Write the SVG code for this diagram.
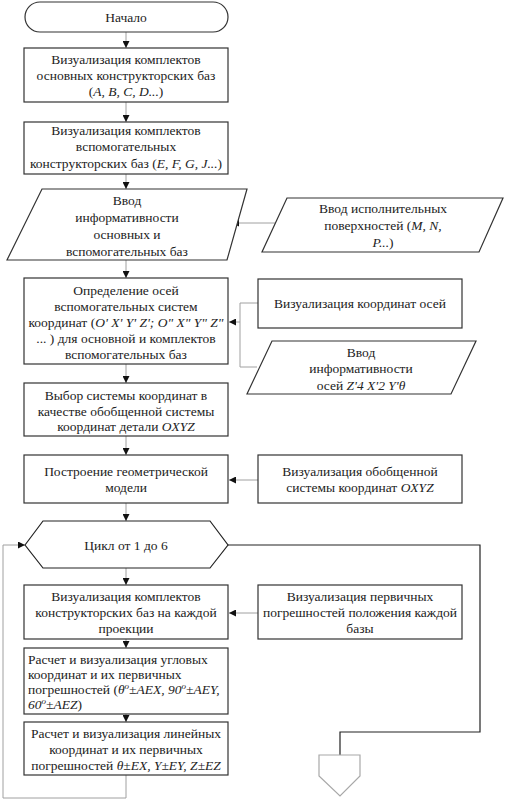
<svg xmlns="http://www.w3.org/2000/svg" width="506" height="800" viewBox="0 0 506 800">
<defs>
<marker id="ah" viewBox="0 0 10 10" refX="10" refY="5" markerWidth="7" markerHeight="7" markerUnits="userSpaceOnUse" orient="auto">
<path d="M0,0 L10,5 L0,10 z" fill="#111"/>
</marker>
<style>
.n{fill:#fff;stroke:#333;stroke-width:1.2}
.t{font-family:"Liberation Serif","Times New Roman",serif;font-size:13.5px;fill:#222;text-anchor:middle}
.l{text-anchor:start}
.i{font-style:italic}
.c{fill:none;stroke:#a0a0a0;stroke-width:1}
.k{fill:none;stroke:#222;stroke-width:1.2}
</style>
</defs>
<rect width="506" height="800" fill="#fff"/>

<g id="connectors">
<path class="c" d="M126,32 V48" marker-end="url(#ah)"/>
<path class="c" d="M126,102 V122" marker-end="url(#ah)"/>
<path class="c" d="M126,174 V189" marker-end="url(#ah)"/>
<path class="c" d="M126,260 V278" marker-end="url(#ah)"/>
<path class="c" d="M126,364 V383" marker-end="url(#ah)"/>
<path class="c" d="M126,436 V455" marker-end="url(#ah)"/>
<path class="c" d="M126,503 V521" marker-end="url(#ah)"/>
<path class="c" d="M126,568 V585" marker-end="url(#ah)"/>
<path class="c" d="M126,639 V648" marker-end="url(#ah)"/>
<path class="c" d="M126,714 V722" marker-end="url(#ah)"/>
<path class="c" d="M126,775 V798 H3 V545 H25" marker-end="url(#ah)"/>
<path class="c" d="M275,223 H232" marker-end="url(#ah)"/>
<path class="c" d="M258,303 H240 V367 H257"/>
<path class="c" d="M240,322 H229" marker-end="url(#ah)"/>
<path class="c" d="M258,480 H229" marker-end="url(#ah)"/>
<path class="c" d="M258,613 H229" marker-end="url(#ah)"/>
<path class="k" d="M228,545 H480 V732 H340 V755"/>
</g>

<g id="start">
<rect class="n" x="25" y="2" width="203" height="30" rx="15" ry="15"/>
<text class="t" x="126" y="22">Начало</text>
</g>

<g id="box1">
<rect class="n" x="24" y="48" width="204" height="54"/>
<text class="t" x="126" y="64">Визуализация комплектов</text>
<text class="t" x="126" y="80">основных конструкторских баз</text>
<text class="t" x="126" y="96">(<tspan class="i">A, B, C, D...</tspan>)</text>
</g>

<g id="box2">
<rect class="n" x="24" y="122" width="204" height="52"/>
<text class="t" x="126" y="135">Визуализация комплектов</text>
<text class="t" x="126" y="151">вспомогательных</text>
<text class="t" x="126" y="168">конструкторских баз (<tspan class="i">E, F, G, J...</tspan>)</text>
</g>

<g id="input1">
<path class="n" d="M42,189 H247 L227,260 H7 Z"/>
<text class="t" x="127" y="205">Ввод</text>
<text class="t" x="127" y="222">информативности</text>
<text class="t" x="127" y="239">основных и</text>
<text class="t" x="127" y="256">вспомогательных баз</text>
</g>

<g id="input2">
<path class="n" d="M287,198 H503 L479,252 H262 Z"/>
<text class="t" x="383" y="213">Ввод исполнительных</text>
<text class="t" x="383" y="230">поверхностей (<tspan class="i">M, N,</tspan></text>
<text class="t" x="383" y="247"><tspan class="i">P...</tspan>)</text>
</g>

<g id="box3">
<rect class="n" x="24" y="278" width="204" height="86"/>
<text class="t" x="126" y="295">Определение осей</text>
<text class="t" x="126" y="311">вспомогательных систем</text>
<text class="t" x="126" y="327">координат (<tspan class="i">O' X' Y' Z'; O" X" Y" Z"</tspan></text>
<text class="t" x="126" y="343">... ) для основной и комплектов</text>
<text class="t" x="126" y="359">вспомогательных баз</text>
</g>

<g id="vis_axes">
<rect class="n" x="258" y="279" width="204" height="49"/>
<text class="t" x="360" y="308">Визуализация координат осей</text>
</g>

<g id="input3">
<path class="n" d="M272,341 H476 L451,394 H247 Z"/>
<text class="t" x="361" y="357">Ввод</text>
<text class="t" x="361" y="373">информативности</text>
<text class="t" x="361" y="390">осей <tspan class="i">Z'4 X'2 Y'θ</tspan></text>
</g>

<g id="box4">
<rect class="n" x="24" y="383" width="204" height="53"/>
<text class="t" x="126" y="400">Выбор системы координат в</text>
<text class="t" x="126" y="416">качестве обобщенной системы</text>
<text class="t" x="126" y="431">координат детали <tspan class="i">OXYZ</tspan></text>
</g>

<g id="box5">
<rect class="n" x="24" y="455" width="204" height="48"/>
<text class="t" x="126" y="476">Построение геометрической</text>
<text class="t" x="126" y="492">модели</text>
</g>

<g id="vis_general">
<rect class="n" x="258" y="455" width="204" height="48"/>
<text class="t" x="360" y="476">Визуализация обобщенной</text>
<text class="t" x="360" y="492">системы координат <tspan class="i">OXYZ</tspan></text>
</g>

<g id="loop">
<path class="n" d="M25,545 L43,521 H210 L228,545 L210,568 H43 Z" style="stroke:#222"/>
<text class="t" x="126" y="550">Цикл от 1 до 6</text>
</g>

<g id="box6">
<rect class="n" x="24" y="585" width="204" height="54"/>
<text class="t" x="126" y="601">Визуализация комплектов</text>
<text class="t" x="126" y="617">конструкторских баз на каждой</text>
<text class="t" x="126" y="633">проекции</text>
</g>

<g id="vis_errors">
<rect class="n" x="258" y="585" width="204" height="54"/>
<text class="t" x="360" y="601">Визуализация первичных</text>
<text class="t" x="360" y="617">погрешностей положения каждой</text>
<text class="t" x="360" y="633">базы</text>
</g>

<g id="box7">
<rect class="n" x="24" y="648" width="204" height="66"/>
<text class="t l" x="28" y="664">Расчет и визуализация угловых</text>
<text class="t l" x="28" y="679">координат и их первичных</text>
<text class="t l" x="28" y="694">погрешностей (<tspan class="i">θ<tspan font-size="9" dy="-5">o</tspan><tspan dy="5">±AEX, 90</tspan><tspan font-size="9" dy="-5">o</tspan><tspan dy="5">±AEY,</tspan></tspan></text>
<text class="t l" x="28" y="709"><tspan class="i">60<tspan font-size="9" dy="-5">o</tspan><tspan dy="5">±AEZ</tspan></tspan>)</text>
</g>

<g id="box8">
<rect class="n" x="24" y="722" width="204" height="53"/>
<text class="t" x="126" y="738">Расчет и визуализация линейных</text>
<text class="t" x="126" y="754">координат и их первичных</text>
<text class="t" x="126" y="770">погрешностей <tspan class="i">θ±EX, Y±EY, Z±EZ</tspan></text>
</g>

<g id="offpage">
<path d="M319,755 H360 V776 L340,796 L319,776 Z" fill="#fff" stroke="#a8a8a8" stroke-width="1.2"/>
</g>
</svg>
